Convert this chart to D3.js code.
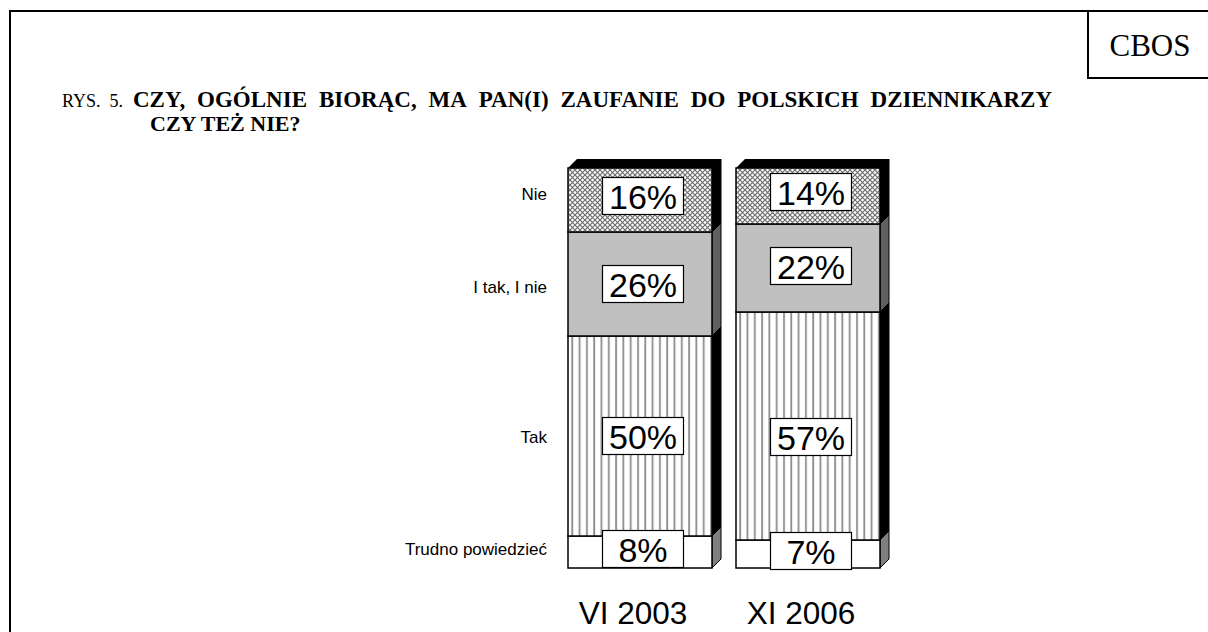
<!DOCTYPE html>
<head>
  <meta charset="utf-8">
  <script src="https://d3js.org/d3.v7.min.js"></script>
  <style>
body {
	margin:0;
	background:#fff;
	}
.serif {
	font-family: "Liberation Serif", "Times New Roman", serif;
	}
.sans {
	font-family: "Liberation Sans", Arial, sans-serif;
	}
  </style>
</head>

<body>
  <div id="graph"></div>
<script>
// data, bottom segment first
var periods = ["VI 2003", "XI 2006"];
var answers = ["Trudno powiedzieć", "Tak", "I tak, I nie", "Nie"];
var trudno = [8, 7];
var tak = [50, 57];
var itak = [26, 22];
var nie = [16, 14];

var W = 1208, H = 632;
var depth = 9;

var svg = d3.select("#graph")
  .append("svg")
  .attr("width", W)
  .attr("height", H);

// patterns
var defs = svg.append("defs");
var pNie = defs.append("pattern")
  .attr("id", "pNie")
  .attr("patternUnits", "userSpaceOnUse")
  .attr("width", 5).attr("height", 5);
pNie.append("rect").attr("width", 5).attr("height", 5).attr("fill", "#fff");
pNie.append("path").attr("d", "M0,0L5,5M5,0L0,5")
  .attr("stroke", "#6e6e6e").attr("stroke-width", 1.2);

var pTak = defs.append("pattern")
  .attr("id", "pTak")
  .attr("patternUnits", "userSpaceOnUse")
  .attr("width", 7.3).attr("height", 10);
pTak.append("rect").attr("width", 7.3).attr("height", 10).attr("fill", "#fff");
pTak.append("rect").attr("x", 2).attr("width", 1.8).attr("height", 10).attr("fill", "#8c8c8c");

// per series look, bottom first
var styles = [
  {fill: "#fff", side: "#808080", lab: -3},
  {fill: "url(#pTak)", side: "#000", lab: 1},
  {fill: "#c0c0c0", side: "#606060", lab: 3},
  {fill: "url(#pNie)", side: "#000", lab: -6}
];

// frame
svg.append("path")
  .attr("d", "M" + W + ",11H10V" + H)
  .attr("fill", "none").attr("stroke", "#000").attr("stroke-width", 2);
svg.append("path")
  .attr("d", "M1088,11V78H" + W)
  .attr("fill", "none").attr("stroke", "#000").attr("stroke-width", 2);
svg.append("text")
  .attr("class", "serif")
  .attr("x", 1150).attr("y", 56)
  .attr("text-anchor", "middle")
  .style("font-size", "31px")
  .text("CBOS");

// title, first line justified like in the report
svg.append("text")
  .attr("class", "serif")
  .attr("x", 62).attr("y", 107)
  .style("font-size", "18px")
  .attr("xml:space", "preserve")
  .text("RYS.  5.");

var words = "CZY, OGÓLNIE BIORĄC, MA PAN(I) ZAUFANIE DO POLSKICH DZIENNIKARZY".split(" ");
var tLine = svg.append("text")
  .attr("class", "serif")
  .attr("y", 107)
  .attr("font-weight", "bold")
  .style("font-size", "23px");
var spans = tLine.selectAll("tspan")
  .data(words)
  .enter()
  .append("tspan")
  .text(function(w) { return w; });
var lens = [];
spans.each(function() { lens.push(this.getComputedTextLength()); });
var x0 = 133, x1 = 1052;
var gap = (x1 - x0 - d3.sum(lens)) / (words.length - 1);
var pos = x0;
spans.attr("x", function(w, i) {
  var p = pos;
  pos += lens[i] + gap;
  return p;
});

svg.append("text")
  .attr("class", "serif")
  .attr("x", 150).attr("y", 131)
  .attr("font-weight", "bold")
  .style("font-size", "22px")
  .text("CZY TEŻ NIE?");

// scales
var x = d3.scaleBand().domain(periods).range([568, 880]).paddingInner(24 / 168);
var y = d3.scaleLinear().domain([0, 100]).range([568, 168]);
var bw = x.bandwidth();

// stack the series
var table = periods.map(function(p, i) {
  return {period: p, values: [trudno[i], tak[i], itak[i], nie[i]]};
});
table.forEach(function(d) {
  var cum = 0;
  d.segs = d.values.map(function(v, k) {
    var s = {k: k, v: v, y0: cum, y1: cum + v, period: d.period};
    cum += v;
    return s;
  });
});

var bars = svg.selectAll(".bar")
  .data(table)
  .enter()
  .append("g")
  .attr("class", "bar");

// side faces
bars.selectAll(".side")
  .data(function(d) { return d.segs; })
  .enter()
  .append("path")
  .attr("d", function(s) {
    var xr = x(s.period) + bw;
    return "M" + xr + "," + y(s.y0) + "L" + (xr + depth) + "," + (y(s.y0) - depth) +
      "L" + (xr + depth) + "," + (y(s.y1) - depth) + "L" + xr + "," + y(s.y1) + "Z";
  })
  .attr("fill", function(s) { return styles[s.k].side; })
  .attr("stroke", "#000").attr("stroke-width", 1);

// top face
bars.append("path")
  .attr("d", function(d) {
    var xl = x(d.period), yt = y(100);
    return "M" + xl + "," + yt + "L" + (xl + depth) + "," + (yt - depth) +
      "L" + (xl + bw + depth) + "," + (yt - depth) + "L" + (xl + bw) + "," + yt + "Z";
  })
  .attr("fill", "#000");

// front faces
bars.selectAll(".seg")
  .data(function(d) { return d.segs; })
  .enter()
  .append("rect")
  .attr("class", "seg")
  .attr("x", function(s) { return x(s.period); })
  .attr("y", function(s) { return y(s.y1); })
  .attr("width", bw)
  .attr("height", function(s) { return y(s.y0) - y(s.y1); })
  .attr("fill", function(s) { return styles[s.k].fill; })
  .attr("stroke", "#000").attr("stroke-width", 1.5);

// value boxes
var lab = bars.selectAll(".val")
  .data(function(d) { return d.segs; })
  .enter()
  .append("g")
  .attr("class", "val")
  .attr("transform", function(s) {
    var cy = (y(s.y0) + y(s.y1)) / 2;
    if (s.k === 0) cy -= 3;
    if (s.k === 3) cy -= 4;
    if (s.k === 1 && s.period === periods[1]) cy += 11;
    if (s.k === 2 && s.period === periods[1]) cy -= 2;
    return "translate(" + (x(s.period) + bw / 2 + 3) + "," + cy + ")";
  });
lab.append("rect")
  .attr("x", -40.5).attr("y", -18.5)
  .attr("width", 81).attr("height", 37)
  .attr("fill", "#fff").attr("stroke", "#000").attr("stroke-width", 1.2);
lab.append("text")
  .attr("class", "sans")
  .attr("text-anchor", "middle")
  .attr("y", 12.5)
  .style("font-size", "34px")
  .text(function(s) { return s.v + "%"; });

// category labels beside the first bar
var first = table[0].segs;
svg.selectAll(".cat")
  .data(first)
  .enter()
  .append("text")
  .attr("class", "sans")
  .attr("x", 547)
  .attr("y", function(s) { return (y(s.y0) + y(s.y1)) / 2 + 6 + styles[s.k].lab; })
  .attr("text-anchor", "end")
  .style("font-size", "17px")
  .text(function(s) { return answers[s.k]; });

// period labels
svg.selectAll(".per")
  .data(periods)
  .enter()
  .append("text")
  .attr("class", "sans")
  .attr("x", function(p) { return x(p) + bw / 2 - 7; })
  .attr("y", 624)
  .attr("text-anchor", "middle")
  .style("font-size", "31.5px")
  .text(function(p) { return p; });
</script>
</body>
